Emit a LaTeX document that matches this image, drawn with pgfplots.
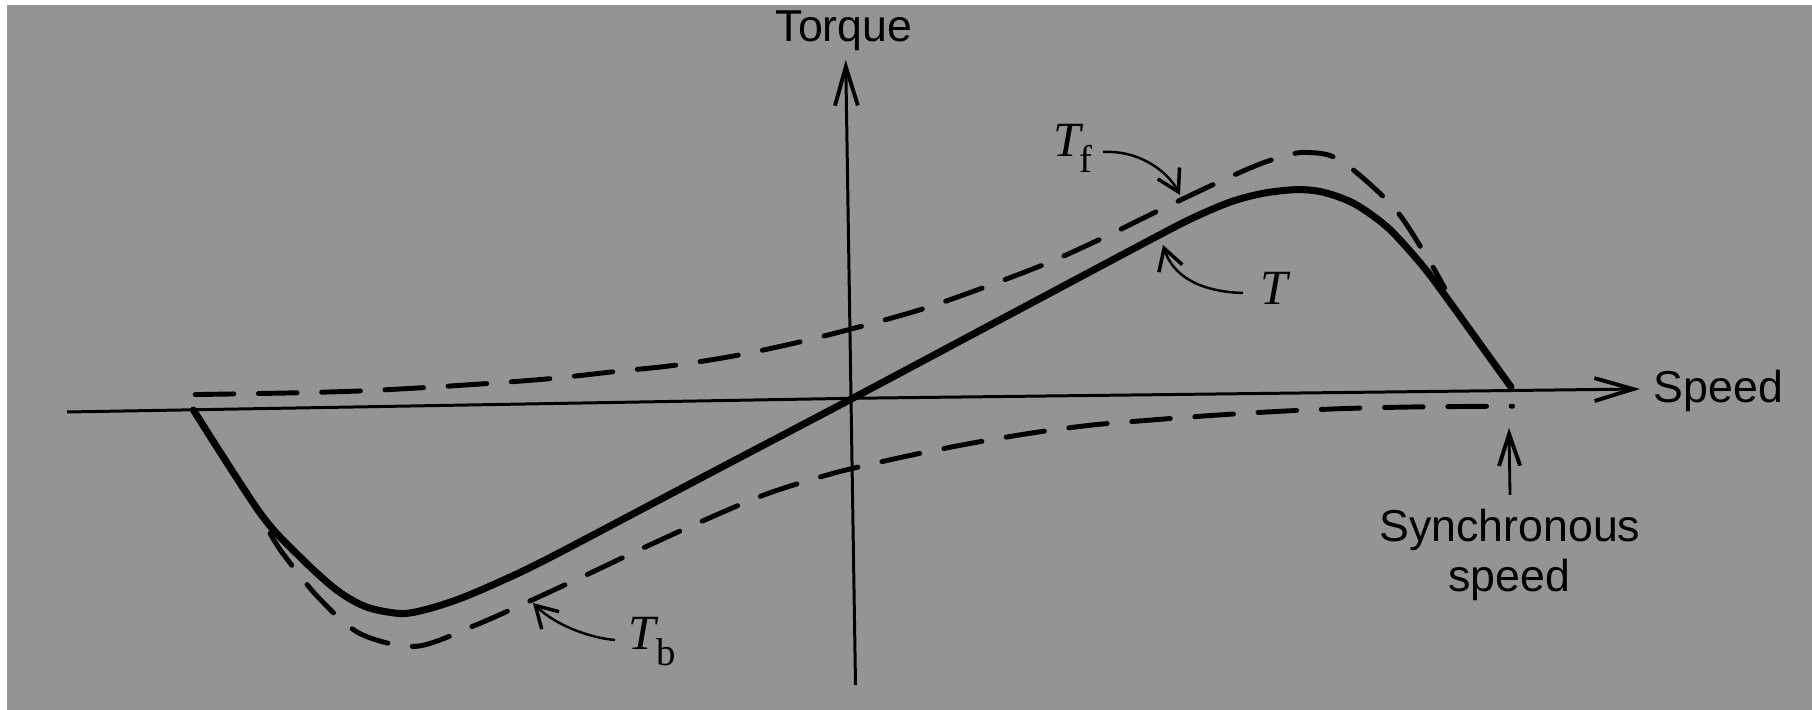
\documentclass[border=0pt]{standalone}
\usepackage{fontspec}
\setmainfont{Liberation Sans}
\newfontfamily\serifit{Liberation Serif}
\usepackage{pgfplots}
\pgfplotsset{compat=1.18}
\usepackage{pgfplotstable}
\usetikzlibrary{arrows.meta}

\definecolor{scan}{RGB}{148,148,148}

% speed in units of synchronous speed, torque in arbitrary units
\pgfplotstableread{
s      T
-1.000  0.000
-0.901 -0.523
-0.842 -0.744
-0.787 -0.913
-0.742 -1.000
-0.690 -1.035
-0.650 -1.015
-0.600 -0.965
-0.540 -0.885
-0.462 -0.767
-0.231 -0.383
 0.000  0.000
 0.225  0.378
 0.450  0.756
 0.520  0.870
 0.580  0.950
 0.630  0.990
 0.680  1.005
 0.720  0.990
 0.767  0.930
 0.817  0.808
 0.865  0.630
 0.900  0.474
 1.000  0.000
}\torque

\pgfplotstableread{
s      T
-0.997  0.077
-0.845  0.077
-0.743  0.081
-0.648  0.092
-0.552  0.107
-0.456  0.126
-0.363  0.154
-0.267  0.182
-0.173  0.226
-0.077  0.288
 0.022  0.365
 0.112  0.444
 0.205  0.546
 0.300  0.660
 0.381  0.775
 0.475  0.920
 0.562  1.050
 0.620  1.130
 0.660  1.172
 0.695  1.190
 0.746  1.150
 0.826  0.911
 0.877  0.650
 0.902  0.500
}\forward

\pgfplotstableread{
s      T
-0.887 -0.623
-0.868 -0.725
-0.816 -0.945
-0.753 -1.132
-0.668 -1.200
-0.578 -1.100
-0.492 -0.980
-0.408 -0.858
-0.318 -0.724
-0.224 -0.590
-0.131 -0.468
-0.032 -0.373
 0.064 -0.304
 0.163 -0.243
 0.267 -0.190
 0.361 -0.154
 0.451 -0.134
 0.550 -0.115
 0.650 -0.101
 0.747 -0.093
 0.848 -0.091
 0.957 -0.094
 1.002 -0.096
}\backward

\begin{document}
\begin{tikzpicture}
% page and scanned paper, in pixels of the original figure
\begin{scope}[x=0.01cm,y=-0.01cm]
\fill[white] (0,0) rectangle (1812,710);
\fill[scan] (7,5) rectangle (1812,710);
\useasboundingbox (0,0) rectangle (1812,710);
\end{scope}

% the scan is turned about one degree, hence the tilted unit vectors
\begin{axis}[
    at={(8.517cm,-3.983cm)}, anchor=origin,
    x={(6.584cm,0.1149cm)}, y={(-0.0349cm,1.9997cm)},
    xmin=-1.05, xmax=1.05, ymin=-1.3, ymax=1.3,
    hide axis, clip=false
]
\addplot[black, line width=2pt, line cap=round, smooth, tension=0.5] table[x=s,y=T] {\torque};
\addplot[black, line width=1.4pt, line cap=round, dash pattern=on 11pt off 7pt, smooth, tension=0.5] table[x=s,y=T] {\forward};
\addplot[black, line width=1.4pt, line cap=round, dash pattern=on 11pt off 7pt, smooth, tension=0.5] table[x=s,y=T] {\backward};
\end{axis}

\begin{scope}[x=0.01cm,y=-0.01cm, font=\fontsize{12.7}{15}\selectfont]
% axes
\draw[line width=0.85pt, -{Straight Barb[length=11pt,width=6.5pt,line width=1.1pt]}] (67,412) -- (851.7,398.3) -- (1640,389);
\draw[line width=0.85pt, -{Straight Barb[length=11pt,width=6.5pt,line width=1.1pt]}] (855.5,685) -- (845.7,60);
\node[anchor=base, inner sep=0] at (844,41.7) {Torque};
\node[anchor=base west, inner sep=0] at (1653,403) {Speed};
% synchronous speed
\draw[line width=0.8pt, -{Straight Barb[length=9pt,width=6pt,line width=1.1pt]}] (1510,495) -- (1509,428);
\node[anchor=base, inner sep=0] at (1510,541.7) {Synchronous};
\node[anchor=base, inner sep=0] at (1509,591.7) {speed};
% curve labels
\draw[line width=0.7pt, -{Straight Barb[length=6pt,width=7pt,line width=1pt]}] (1103,152) .. controls (1140,150) and (1168,172) .. (1180,195);
\node[anchor=base west, inner sep=0, font=\serifit\itshape\fontsize{14}{16}\selectfont] at (1053,157) {T};
\node[anchor=base west, inner sep=0, font=\serifit\fontsize{11}{13}\selectfont] at (1079,173) {f};
\draw[line width=0.7pt, -{Straight Barb[length=6pt,width=7pt,line width=1pt]}] (1243,293) .. controls (1210,292) and (1175,282) .. (1163,245);
\node[anchor=base west, inner sep=0, font=\serifit\itshape\fontsize{14}{16}\selectfont] at (1260,305) {T};
\draw[line width=0.7pt, -{Straight Barb[length=6pt,width=7pt,line width=1pt]}] (615,640) .. controls (590,638) and (555,625) .. (533,603);
\node[anchor=base west, inner sep=0, font=\serifit\itshape\fontsize{14}{16}\selectfont] at (628,650) {T};
\node[anchor=base west, inner sep=0, font=\serifit\fontsize{11}{13}\selectfont] at (656,666) {b};
\end{scope}
\end{tikzpicture}
\end{document}
